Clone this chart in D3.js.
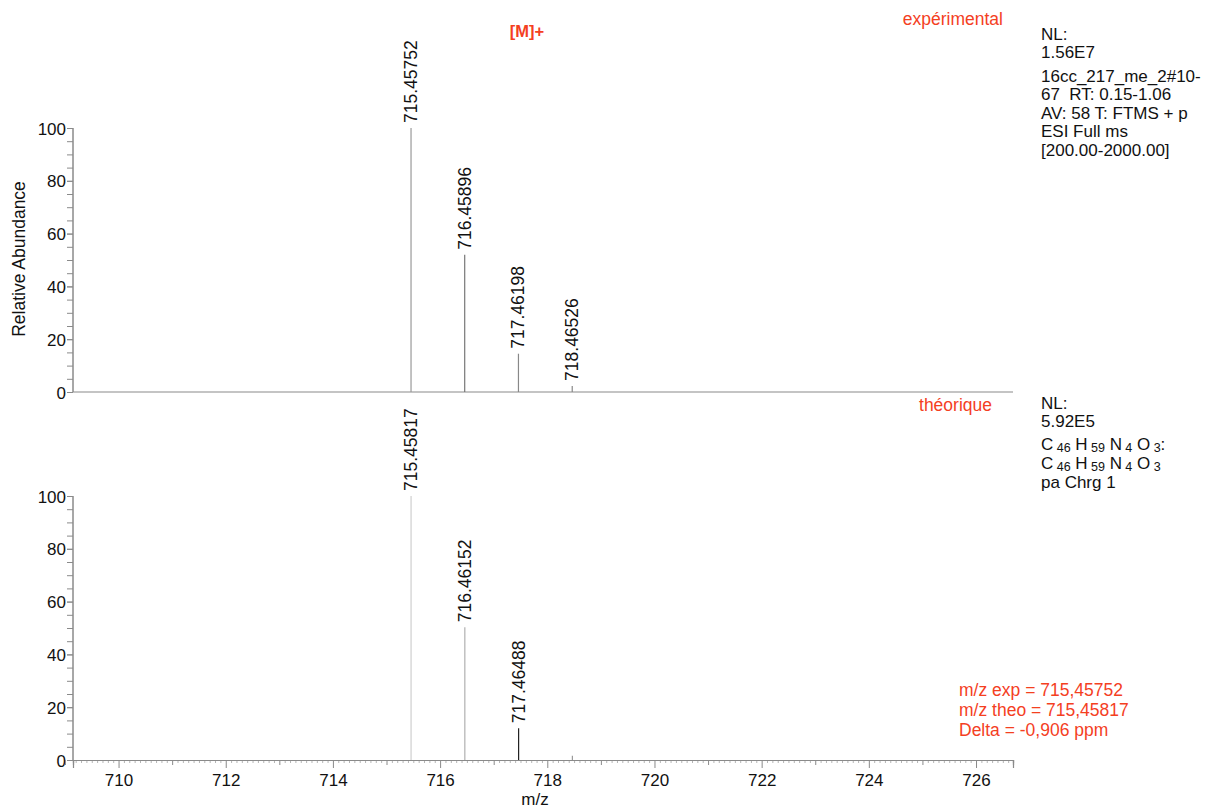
<!DOCTYPE html>
<html><head><meta charset="utf-8">
<script src="https://cdn.jsdelivr.net/npm/d3@7"></script>
<style>
body{margin:0;background:#fff;}
text{font-family:"Liberation Sans",Arial,Helvetica,sans-serif;white-space:pre;}
</style></head>
<body><svg id="c" width="1206" height="810"></svg>
<script>
// ---- data ----
const expMz = [715.45752, 716.45896, 717.46198, 718.46526];
const expInt = [100, 52, 14.5, 2.3];
const expLabels = ["715.45752", "716.45896", "717.46198", "718.46526"];
const theoMz = [715.45817, 716.46152, 717.46488, 718.46826];
const theoInt = [100, 50.3, 12, 1.6];
const theoLabels = ["715.45817", "716.46152", "717.46488", ""];
const xTickLabels = [710, 712, 714, 716, 718, 720, 722, 724, 726];
const yTickLabels = [0, 20, 40, 60, 80, 100];
const expInfo = ["NL:", "1.56E7", "16cc_217_me_2#10-", "67\u00a0\u00a0RT: 0.15-1.06", "AV: 58 T: FTMS + p", "ESI Full ms", "[200.00-2000.00]"];
const theoInfo = ["NL:", "5.92E5"];
const resultLines = ["m/z exp = 715,45752", "m/z theo = 715,45817", "Delta = -0,906 ppm"];

// ---- layout ----
const svg = d3.select("#c");
const red = "#f4401f";
const axisCol = "#8a8a8a";
const fs = 17;
const x = d3.scaleLinear().domain([709.15, 726.69]).range([73, 1013]);
const yTop = d3.scaleLinear().domain([0, 100]).range([392, 128]);
const yBot = d3.scaleLinear().domain([0, 100]).range([760, 496]);

function yAxis(y) {
  const g = svg.append("g").attr("transform", "translate(73,0)");
  g.call(d3.axisLeft(y).tickValues(d3.range(0, 101, 5)).tickSize(6).tickFormat(""));
  const lab = svg.append("g").attr("transform", "translate(73,0)")
    .call(d3.axisLeft(y).tickValues(yTickLabels).tickSize(6).tickFormat(d3.format("d")));
  [g, lab].forEach(s => {
    s.select(".domain").attr("stroke", axisCol).attr("d", `M0,${y(100)}V${y(0)}`);
    s.selectAll(".tick line").attr("stroke", axisCol);
  });
  lab.selectAll("text").attr("font-size", fs).attr("fill", "#111").attr("x", -7).attr("dy", "0.36em");
}
yAxis(yTop);
yAxis(yBot);

// top baseline
svg.append("line").attr("x1", x.range()[0]).attr("x2", x.range()[1])
  .attr("y1", yTop(0)).attr("y2", yTop(0)).attr("stroke", axisCol).attr("stroke-width", 1.2);

// bottom x axis
const xg = svg.append("g").attr("transform", `translate(0,${yBot(0)})`);
const minor = d3.range(709.2, 726.65, 0.1).filter(v => Math.abs(v - Math.round(v)) > 0.01);
xg.append("g").attr("class", "mn").call(d3.axisBottom(x).tickValues(minor).tickSize(3).tickFormat(""));
xg.append("g").call(d3.axisBottom(x).tickValues(d3.range(709, 727, 2)).tickSize(5).tickFormat(""));
const xl = xg.append("g").call(d3.axisBottom(x).tickValues(xTickLabels).tickSize(8).tickFormat(d3.format("d")));
xg.selectAll(".domain").attr("stroke", axisCol).attr("stroke-width", 1.2);
xg.selectAll(".tick line").attr("stroke", axisCol);
xg.selectAll(".mn .tick line").attr("stroke", "#b5b5b5");
xl.selectAll("text").attr("font-size", fs).attr("fill", "#111").attr("y", 14);

// peaks
function peaks(mz, inten, labels, y, cols) {
  const data = mz.map((m, i) => ({m, v: inten[i], l: labels[i], c: cols[i]}));
  svg.append("g").selectAll("line").data(data).join("line")
    .attr("x1", d => x(d.m)).attr("x2", d => x(d.m))
    .attr("y1", y(0)).attr("y2", d => y(d.v))
    .attr("stroke", d => d.c).attr("stroke-width", 1.2);
  svg.append("g").selectAll("text").data(data.filter(d => d.l)).join("text")
    .attr("transform", d => `translate(${x(d.m) + 6},${y(d.v) - 5}) rotate(-90)`)
    .attr("font-size", 17.5).attr("fill", "#111").text(d => d.l);
}
peaks(expMz, expInt, expLabels, yTop, ["#9a9a9a", "#777", "#888", "#888"]);
peaks(theoMz, theoInt, theoLabels, yBot, ["#cfcfcf", "#b0b0b0", "#222", "#999"]);

// titles
svg.append("text").attr("transform", "translate(25,259) rotate(-90)").attr("text-anchor", "middle")
  .attr("font-size", 17.5).attr("fill", "#111").text("Relative Abundance");
svg.append("text").attr("x", 535).attr("y", 805).attr("text-anchor", "middle")
  .attr("font-size", fs).attr("fill", "#111").text("m/z");

// red annotations
const rfs = 17.5;
svg.append("text").attr("x", 1003).attr("y", 25).attr("text-anchor", "end").attr("font-size", rfs).attr("fill", red).text("expérimental");
svg.append("text").attr("x", 527).attr("y", 37).attr("text-anchor", "middle").attr("font-size", 16.5).attr("font-weight", "bold").attr("fill", red).text("[M]+");
svg.append("text").attr("x", 992).attr("y", 411).attr("text-anchor", "end").attr("font-size", rfs).attr("fill", red).text("théorique");
svg.append("g").selectAll("text").data(resultLines).join("text")
  .attr("x", 959).attr("y", (d, i) => 696 + i * 20).attr("font-size", rfs).attr("fill", red).text(d => d);

// info text
const ifs = 17;
const info1Y = [40, 58, 82, 100, 119, 137, 156];
svg.append("g").selectAll("text").data(expInfo).join("text")
  .attr("x", 1041).attr("y", (d, i) => info1Y[i]).attr("font-size", ifs).attr("fill", "#111").text(d => d);
const info2Y = [409, 427];
svg.append("g").selectAll("text").data(theoInfo).join("text")
  .attr("x", 1041).attr("y", (d, i) => info2Y[i]).attr("font-size", ifs).attr("fill", "#111").text(d => d);
// formula lines with subscripts
function formula(yy, suffix) {
  const t = svg.append("text").attr("x", 1041).attr("y", yy).attr("font-size", ifs).attr("fill", "#111");
  const parts = [["C", "46"], ["H", "59"], ["N", "4"], ["O", "3"]];
  parts.forEach((p, i) => {
    t.append("tspan").attr("dy", i ? -2 : 0).text((i ? " " : "") + p[0] + "\u2009");
    t.append("tspan").attr("font-size", 12.5).attr("dy", 2).text(p[1]);
  });
  if (suffix) t.append("tspan").attr("dy", -2).text(suffix);
}
formula(450, ":");
formula(469, "");
svg.append("text").attr("x", 1041).attr("y", 488).attr("font-size", ifs).attr("fill", "#111").text("pa Chrg 1");
</script></body></html>
